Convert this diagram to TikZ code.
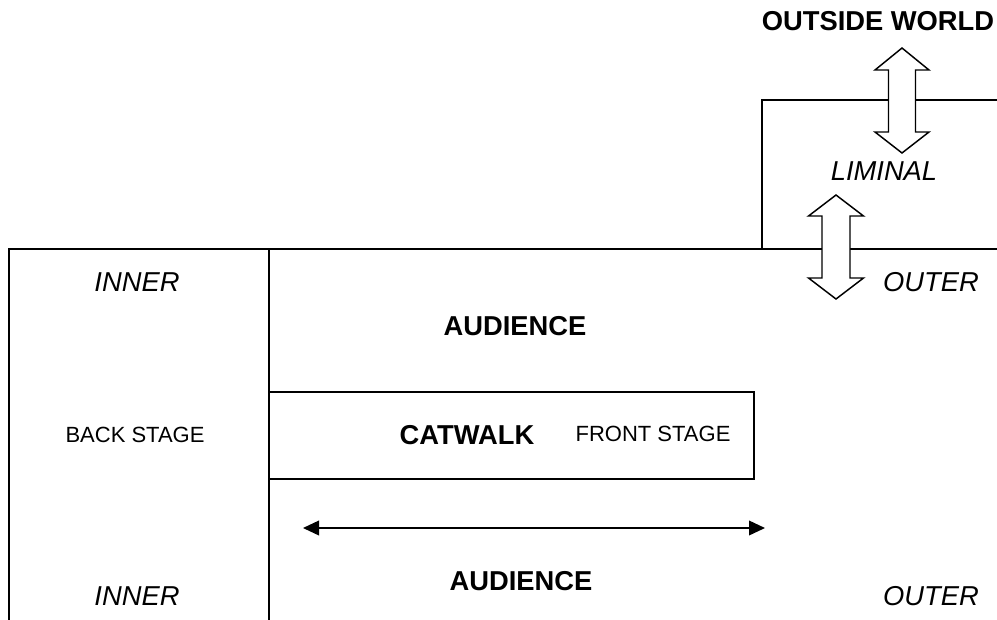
\documentclass[tikz,border=0pt]{standalone}
\usepackage{fontspec}
\setmainfont{Liberation Sans}
\usetikzlibrary{arrows.meta}
\begin{document}
\begin{tikzpicture}[x=0.75pt,y=-0.75pt,
  wall/.style={line width=1.2pt,line cap=rect},
  bigarrow/.style={line width=1.1pt,fill=white,line join=miter},
  lab/.style={inner sep=0pt,font=\fontsize{20.5}{24}\selectfont},
  labit/.style={lab,font=\fontsize{20.5}{24}\selectfont\itshape},
  labbf/.style={lab,font=\fontsize{20.5}{24}\selectfont\bfseries},
  labsm/.style={inner sep=0pt,font=\fontsize{16.5}{20}\selectfont}]
\useasboundingbox (0,0) rectangle (997,619);
% walls
\draw[wall] (9,625) -- (9,249) -- (1000,249);
\draw[wall] (269,249) -- (269,625);
\draw[wall] (762,249) -- (762,100) -- (1000,100);
\draw[wall] (269,392) rectangle (754,479);
% horizontal double-headed arrow
\coordinate (hl) at (303,528);
\coordinate (hr) at (765,528);
\draw[line width=1.2pt,{Triangle[length=12pt,width=11pt]}-{Triangle[length=12pt,width=11pt]}] (hl) -- (hr);
% double arrows
\draw[bigarrow] (902,48) -- (929,70) -- (915.5,70) -- (915.5,132) -- (929,132) -- (902,153)
  -- (875,132) -- (888.5,132) -- (888.5,70) -- (875,70) -- cycle;
\draw[bigarrow] (836,195) -- (863.5,216) -- (850,216) -- (850,278) -- (863.5,278) -- (836,299)
  -- (808.5,278) -- (822,278) -- (822,216) -- (808.5,216) -- cycle;
% labels
\node[labbf] (ow) at (878,21) {OUTSIDE WORLD};
\node[labit] (lim) at (884,171) {LIMINAL};
\node[labit] (in1) at (137,282) {INNER};
\node[labit] (in2) at (137,596) {INNER};
\node[labit] (out1) at (931,282) {OUTER};
\node[labit] (out2) at (931,596) {OUTER};
\node[labbf] (aud1) at (515,326) {AUDIENCE};
\node[labbf] (aud2) at (521,581) {AUDIENCE};
\node[labsm] (bs) at (135,435) {BACK STAGE};
\node[labbf] (cw) at (467,435) {CATWALK};
\node[labsm] (fs) at (653,434) {FRONT STAGE};
\end{tikzpicture}
\end{document}
